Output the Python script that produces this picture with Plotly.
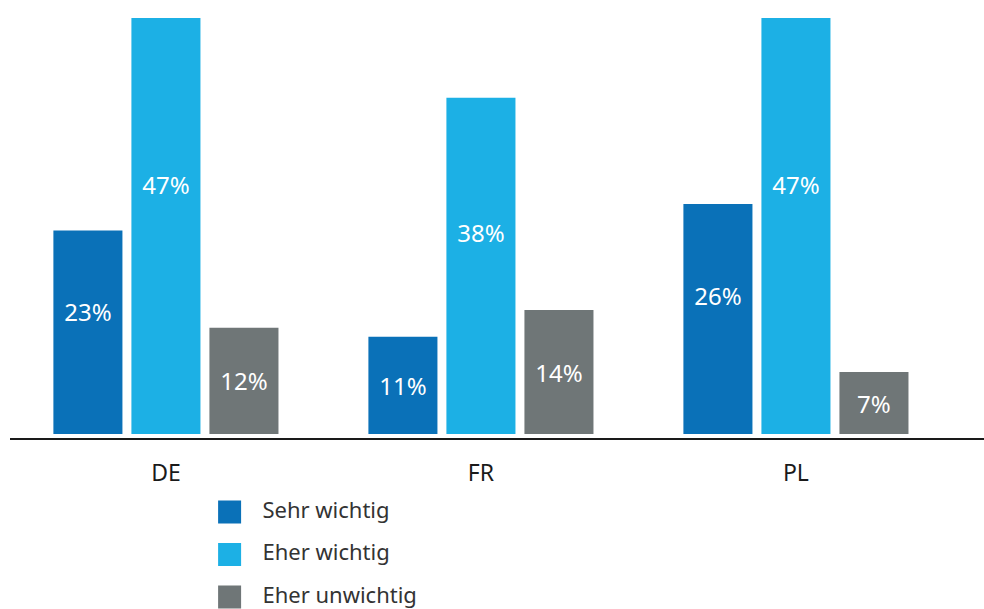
import plotly.graph_objects as go

countries = ["DE", "FR", "PL"]
series_names = ["Sehr wichtig", "Eher wichtig", "Eher unwichtig"]
sehr_wichtig = [23, 11, 26]
eher_wichtig = [47, 38, 47]
eher_unwichtig = [12, 14, 7]
colors = ["#0A71B8", "#1CB0E5", "#6F7677"]

values = [sehr_wichtig, eher_wichtig, eher_unwichtig]
FONT = "Noto Sans"

fig = go.Figure()
for i, (name, vals, col) in enumerate(zip(series_names, values, colors)):
    grp = f"s{i}"
    fig.add_trace(go.Bar(
        x=countries, y=vals, name=name, offsetgroup=grp,
        marker=dict(color=col, line=dict(width=0)),
        showlegend=False, xaxis="x", yaxis="y", hoverinfo="skip",
    ))
    # transparent carrier bar for the value labels (tall bars: label sits a bit above centre)
    lo = [0.2 * v if v >= 20 else 0 for v in vals]
    hi = [v - b for v, b in zip(vals, lo)]
    fig.add_trace(go.Bar(
        x=countries, y=hi, base=lo, offsetgroup=grp,
        marker=dict(color="rgba(0,0,0,0)", line=dict(width=0)),
        text=[f"{v}%" for v in vals], textposition="inside", insidetextanchor="middle",
        textfont=dict(family=FONT, size=24, color="white"), textangle=0,
        constraintext="none",
        showlegend=False, xaxis="x", yaxis="y", hoverinfo="skip",
    ))

# legend drawn as a small key panel
idx = list(range(len(series_names)))
fig.add_trace(go.Scatter(
    x=[0] * len(idx), y=idx, mode="markers",
    marker=dict(symbol="square", size=23, color=colors, line=dict(width=0)),
    xaxis="x2", yaxis="y2", showlegend=False, hoverinfo="skip",
))
fig.add_trace(go.Scatter(
    x=[1] * len(idx), y=idx, mode="text", text=series_names,
    textposition="middle right",
    textfont=dict(family=FONT, size=22, color="#333333"),
    xaxis="x2", yaxis="y2", showlegend=False, hoverinfo="skip",
))

H = 609
fig.update_layout(
    width=984, height=609,
    margin=dict(l=0, r=0, t=0, b=0),
    paper_bgcolor="white", plot_bgcolor="white",
    barmode="group", bargap=0.257, bargroupgap=0.115,
    xaxis=dict(
        domain=[10 / 984, 1], range=[-0.495, 2.597], type="category",
        showline=True, linecolor="#1a1a1a", linewidth=2, showgrid=False,
        zeroline=False, ticks="", ticklabelstandoff=13,
        tickfont=dict(family=FONT, size=23, color="#1a1a1a"), anchor="y",
    ),
    yaxis=dict(
        domain=[(H - 438) / H, 1], range=[-0.45, 49.04],
        showgrid=False, zeroline=False, showticklabels=False, showline=False,
        anchor="x",
    ),
    xaxis2=dict(domain=[0.2, 0.6], range=[-1, 11], visible=False, anchor="y2"),
    yaxis2=dict(domain=[0, 119 / H], range=[2.28, -0.518], visible=False, anchor="x2"),
    font=dict(family=FONT),
    hovermode=False,
)

fig.write_html(
    "out.html",
    config={"displayModeBar": False, "staticPlot": True},
    post_script="document.body.style.margin='0';document.body.style.padding='0';"
                "document.body.style.overflow='hidden';",
)
